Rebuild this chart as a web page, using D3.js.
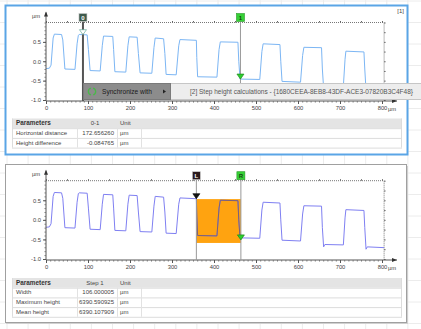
<!DOCTYPE html>
<html><head><meta charset="utf-8">
<script src="https://cdn.jsdelivr.net/npm/d3@7"></script>
<style>
body{margin:0;background:#fff;}
svg{display:block;font-family:"Liberation Sans",Arial,sans-serif;}
</style></head><body>
<svg id="c" width="421" height="329"></svg>
<script>
// ---------- data ----------
const profileX = [0, 8, 12, 17, 20, 37, 40, 45, 69, 74, 77, 79, 98, 101, 105, 129, 134, 137, 159, 161, 164, 190, 195, 198, 217, 220, 224, 252, 257, 260, 280, 283, 286, 310, 316, 319, 358, 359, 361, 407, 412, 415, 457, 459, 462, 509, 514, 517, 557, 559, 562, 606, 611, 614, 656, 658, 661, 664, 708, 712, 714, 757, 759, 762, 765, 805];
const profileY = [-0.19, -0.18, -0.10, 0.60, 0.70, 0.69, 0.55, -0.20, -0.21, 0.45, 0.67, 0.69, 0.68, 0.30, -0.24, -0.25, 0.40, 0.65, 0.64, 0.30, -0.27, -0.28, 0.40, 0.63, 0.62, 0.20, -0.30, -0.31, 0.35, 0.60, 0.58, 0.20, -0.34, -0.35, 0.40, 0.56, 0.54, 0.10, -0.40, -0.41, 0.30, 0.50, 0.49, 0.00, -0.46, -0.47, 0.25, 0.45, 0.43, 0.00, -0.52, -0.54, 0.15, 0.36, 0.35, -0.20, -0.69, -0.63, -0.64, 0.05, 0.26, 0.24, -0.20, -0.75, -0.69, -0.71];
const xTicks = [0, 100, 200, 300, 400, 500, 600, 700, 800];
const yTicks = [-1.0, -0.5, 0.0, 0.5];
const yTickLabels = ["-1.0", "-0.5", "0.0", "0.5"];
const unitLabel = "µm";
const topCursorX = [88, 463];
const topCursorLabels = ["0", "1"];
const bottomCursorX = [358, 464];
const bottomCursorLabels = ["L", "R"];
const stepBoxLevels = [0.53, -0.59];
const topHeader = ["Parameters", "0-1", "Unit"];
const topParams = ["Horizontal distance", "Height difference"];
const topValues = ["172.656260", "-0.084765"];
const topUnits = ["µm", "µm"];
const bottomHeader = ["Parameters", "Step 1", "Unit"];
const bottomParams = ["Width", "Maximum height", "Mean height"];
const bottomValues = ["106.000005", "6390.590925", "6390.107909"];
const bottomUnits = ["µm", "µm", "µm"];
const menuMain = "Synchronize with";
const menuSub = "[2] Step height calculations - {1680CEEA-8EB8-43DF-ACE3-07820B3C4F48}";
const panelTag = "[1]";

// ---------- setup ----------
const svg = d3.select("#c");
const W = 421, H = 329;
const profile = profileX.map((x, i) => [x, profileY[i]]);
const bis = d3.bisector(d => d[0]).left;
function valAt(xv) {
  const i = Math.max(1, Math.min(profile.length - 1, bis(profile, xv)));
  const a = profile[i - 1], b = profile[i];
  const t = (xv - a[0]) / (b[0] - a[0]);
  return a[1] + t * (b[1] - a[1]);
}

// background spreadsheet grid
const bg = svg.append("g");
d3.range(7, W, 21.1).forEach(x => bg.append("line").attr("x1", x).attr("x2", x).attr("y1", 0).attr("y2", H).attr("stroke", "#ececec"));
d3.range(1, H, 21.5).forEach(y => bg.append("line").attr("x1", 0).attr("x2", W).attr("y1", y).attr("y2", y).attr("stroke", "#ececec"));

// frames
svg.append("rect").attr("x", 6).attr("y", 166).attr("width", 402).attr("height", 158).attr("fill", "#d0d0d0");
svg.append("rect").attr("x", 5.5).attr("y", 164.5).attr("width", 401).attr("height", 158).attr("fill", "#fff").attr("stroke", "#a0a0a0");
svg.append("rect").attr("x", 5.5).attr("y", 5.5).attr("width", 402).attr("height", 149).attr("fill", "#fff").attr("stroke", "#5aa5e6").attr("stroke-width", 2);
svg.append("text").attr("x", 404).attr("y", 13).attr("text-anchor", "end").attr("font-size", 6).attr("fill", "#444").text(panelTag);

function drawChart(g, y0, y1, lineColor, cursors, cursorLabels, isBottom) {
  const x = d3.scaleLinear().domain([0, 800]).range([46, 382]);
  const y = d3.scaleLinear().domain([-1, 1]).range([y0, y1]);
  const xr = x(805), yb = y(-1) + 1, yt = y(1);
  g.append("line").attr("x1", x(0)).attr("x2", xr).attr("y1", yt).attr("y2", yt).attr("stroke", "#777").attr("stroke-dasharray", "1,1");
  g.append("line").attr("x1", xr).attr("x2", xr).attr("y1", yt).attr("y2", yb).attr("stroke", "#777").attr("stroke-dasharray", "1,1");
  g.append("g").attr("transform", `translate(0,${yt})`)
    .call(d3.axisTop(x).tickValues(d3.range(0, 801, 50)).tickSize(1.5).tickFormat(""))
    .call(s => { s.select(".domain").remove(); s.selectAll("line").attr("stroke", "#666"); });
  g.append("g").attr("transform", `translate(${xr},0)`)
    .call(d3.axisRight(y).tickValues(d3.range(-1, 1.01, 0.25)).tickSize(1.5).tickFormat(""))
    .call(s => { s.select(".domain").remove(); s.selectAll("line").attr("stroke", "#666"); });

  if (isBottom) {
    g.append("rect").attr("x", x(cursors[0])).attr("width", x(cursors[1]) - x(cursors[0]))
      .attr("y", y(stepBoxLevels[0])).attr("height", y(stepBoxLevels[1]) - y(stepBoxLevels[0]))
      .attr("fill", "#ffa310");
  }
  const line = d3.line().x(d => x(d[0])).y(d => y(d[1]));
  g.append("path").datum(profile).attr("d", line).attr("fill", "none").attr("stroke", lineColor).attr("stroke-width", 1);
  if (isBottom) {
    const cid = "clipStep";
    g.append("clipPath").attr("id", cid).append("rect").attr("x", x(cursors[0])).attr("width", x(cursors[1]) - x(cursors[0]))
      .attr("y", y(stepBoxLevels[0])).attr("height", y(stepBoxLevels[1]) - y(stepBoxLevels[0]));
    g.append("path").datum(profile).attr("d", line).attr("fill", "none").attr("stroke", "#806070").attr("stroke-width", 1).attr("clip-path", `url(#${cid})`);
  }

  g.append("line").attr("x1", x(0)).attr("x2", 397).attr("y1", yb).attr("y2", yb).attr("stroke", "#555");
  g.append("path").attr("d", `M397,${yb}l-5,-2v4z`).attr("fill", "#333");
  g.append("g").attr("transform", `translate(0,${yb})`)
    .call(d3.axisBottom(x).tickValues(d3.range(0, 801, 10)).tickSize(1.5).tickFormat(""))
    .call(s => { s.select(".domain").remove(); s.selectAll("line").attr("stroke", "#777"); });
  const xa = g.append("g").attr("transform", `translate(0,${yb})`)
    .call(d3.axisBottom(x).tickValues(xTicks).tickSize(3).tickPadding(2).tickFormat(d3.format("d")));
  xa.select(".domain").remove();
  xa.selectAll("line").attr("stroke", "#555");
  xa.selectAll("text").attr("font-size", 5.8).attr("fill", "#444").attr("font-family", "Liberation Sans, Arial");
  g.append("text").attr("x", 388).attr("y", yb + 10.2).attr("font-size", 5.8).attr("fill", "#444").text(unitLabel);

  g.append("line").attr("x1", x(0)).attr("x2", x(0)).attr("y1", yb).attr("y2", yt - 10).attr("stroke", "#555");
  g.append("path").attr("d", `M${x(0)},${yt - 11}l-2,5h4z`).attr("fill", "#333");
  g.append("g").attr("transform", `translate(${x(0)},0)`)
    .call(d3.axisLeft(y).tickValues(d3.range(-1, 1.01, 0.1)).tickSize(1.5).tickFormat(""))
    .call(s => { s.select(".domain").remove(); s.selectAll("line").attr("stroke", "#777"); });
  const ya = g.append("g").attr("transform", `translate(${x(0)},0)`)
    .call(d3.axisLeft(y).tickValues(yTicks).tickSize(3).tickPadding(2).tickFormat((d, i) => yTickLabels[i]));
  ya.select(".domain").remove();
  ya.selectAll("line").attr("stroke", "#555");
  ya.selectAll("text").attr("font-size", 5.8).attr("fill", "#444").attr("font-family", "Liberation Sans, Arial");
  g.append("text").attr("x", 32).attr("y", yt - 5).attr("font-size", 5.8).attr("fill", "#444").text(unitLabel);

  cursors.forEach((cx, i) => {
    const px = x(cx);
    const first = i === 0;
    const lineCol = (!isBottom && first) ? "#555" : "#999";
    const lineW = (!isBottom && first) ? 2 : 1;
    g.append("line").attr("x1", px).attr("x2", px).attr("y1", yt - 1).attr("y2", yb).attr("stroke", lineCol).attr("stroke-width", lineW);
    let boxFill, txtFill, triFill, triStroke;
    if (!isBottom) {
      boxFill = first ? "#3e5a4c" : "#36d036"; txtFill = first ? "#fff" : "#124412";
      triFill = first ? "#fff" : "#2ecf2e"; triStroke = first ? "#6a9" : "#1a8a1a";
    } else {
      boxFill = first ? "#2a1a1c" : "#36d036"; txtFill = first ? "#fff" : "#124412";
      triFill = first ? "#111" : "#2ecf2e"; triStroke = first ? "#111" : "#1a8a1a";
    }
    g.append("rect").attr("x", px - 4).attr("y", yt - 9).attr("width", 8).attr("height", 8)
      .attr("fill", boxFill).attr("stroke", first ? "#ccc" : "#2a9a2a").attr("stroke-width", 0.6);
    g.append("text").attr("x", px).attr("y", yt - 2.8).attr("text-anchor", "middle").attr("font-size", 6).attr("font-weight", "bold").attr("fill", txtFill).text(cursorLabels[i]);
    const ty = y(valAt(cx)) + (isBottom && !first ? 2 : 0);
    g.append("path").attr("d", `M${px},${ty}l-3.5,-5h7z`).attr("fill", triFill).attr("stroke", triStroke).attr("stroke-width", 0.7);
  });
  return { x, y };
}

drawChart(svg.append("g"), 100, 22.5, "#7cb6f4", topCursorX, topCursorLabels, false);
drawChart(svg.append("g"), 259, 180.7, "#7f80f2", bottomCursorX, bottomCursorLabels, true);

// context menu
const menu = svg.append("g");
menu.append("rect").attr("x", 170.5).attr("y", 83.5).attr("width", 260).attr("height", 16).attr("fill", "#ededed").attr("stroke", "#c6c6c6");
menu.append("text").attr("x", 190).attr("y", 94).attr("font-size", 6.5).attr("fill", "#555").text(menuSub);
menu.append("rect").attr("x", 83.5).attr("y", 83.5).attr("width", 87).attr("height", 16).attr("fill", "#8c8c8c").attr("stroke", "#7a7a7a");
menu.append("text").attr("x", 102).attr("y", 94).attr("font-size", 6.6).attr("fill", "#1a1a1a").text(menuMain);
menu.append("path").attr("d", "M163,89.5l3,2l-3,2z").attr("fill", "#222");
const arc = d3.arc().innerRadius(3).outerRadius(4.3);
menu.append("path").attr("transform", "translate(92,91.5)").attr("d", arc({ startAngle: 0.3, endAngle: 2.8 })).attr("fill", "#4ab84a");
menu.append("path").attr("transform", "translate(92,91.5)").attr("d", arc({ startAngle: 3.45, endAngle: 5.95 })).attr("fill", "#4ab84a");

// tables
function drawTable(top, header, params, values, units) {
  const g = svg.append("g");
  const x0 = 12, x1 = 402, rh = 9.7;
  const cols = [x0, 77, 117, 141, x1];
  g.append("rect").attr("x", x0).attr("y", top).attr("width", x1 - x0).attr("height", rh).attr("fill", "#e4e4e4");
  const n = params.length;
  for (let r = 0; r <= n; r++) {
    g.append("line").attr("x1", x0).attr("x2", x1).attr("y1", top + rh * (r + 1) + 0.5).attr("y2", top + rh * (r + 1) + 0.5).attr("stroke", "#dcdcdc");
  }
  g.append("line").attr("x1", x0 + 0.5).attr("x2", x0 + 0.5).attr("y1", top).attr("y2", top + rh * (n + 1)).attr("stroke", "#dcdcdc");
  g.append("line").attr("x1", x1 - 0.5).attr("x2", x1 - 0.5).attr("y1", top).attr("y2", top + rh * (n + 1)).attr("stroke", "#dcdcdc");
  cols.slice(1, 4).forEach(cx => g.append("line").attr("x1", cx + 0.5).attr("x2", cx + 0.5).attr("y1", top + rh).attr("y2", top + rh * (n + 1)).attr("stroke", "#e2e2e2"));
  const ty = r => top + rh * r + 6.6;
  g.append("text").attr("x", 16).attr("y", ty(0)).attr("font-size", 6.4).attr("font-weight", "bold").attr("fill", "#333").text(header[0]);
  g.append("text").attr("x", 95).attr("y", ty(0)).attr("text-anchor", "middle").attr("font-size", 6).attr("fill", "#444").text(header[1]);
  g.append("text").attr("x", 120).attr("y", ty(0)).attr("font-size", 6).attr("fill", "#444").text(header[2]);
  params.forEach((p, i) => {
    g.append("text").attr("x", 16).attr("y", ty(i + 1)).attr("font-size", 6).attr("fill", "#444").text(p);
    g.append("text").attr("x", 114).attr("y", ty(i + 1)).attr("text-anchor", "end").attr("font-size", 6).attr("fill", "#444").text(values[i]);
    g.append("text").attr("x", 120).attr("y", ty(i + 1)).attr("font-size", 6).attr("fill", "#444").text(units[i]);
  });
}
drawTable(118.5, topHeader, topParams, topValues, topUnits);
drawTable(278, bottomHeader, bottomParams, bottomValues, bottomUnits);
</script></body></html>
